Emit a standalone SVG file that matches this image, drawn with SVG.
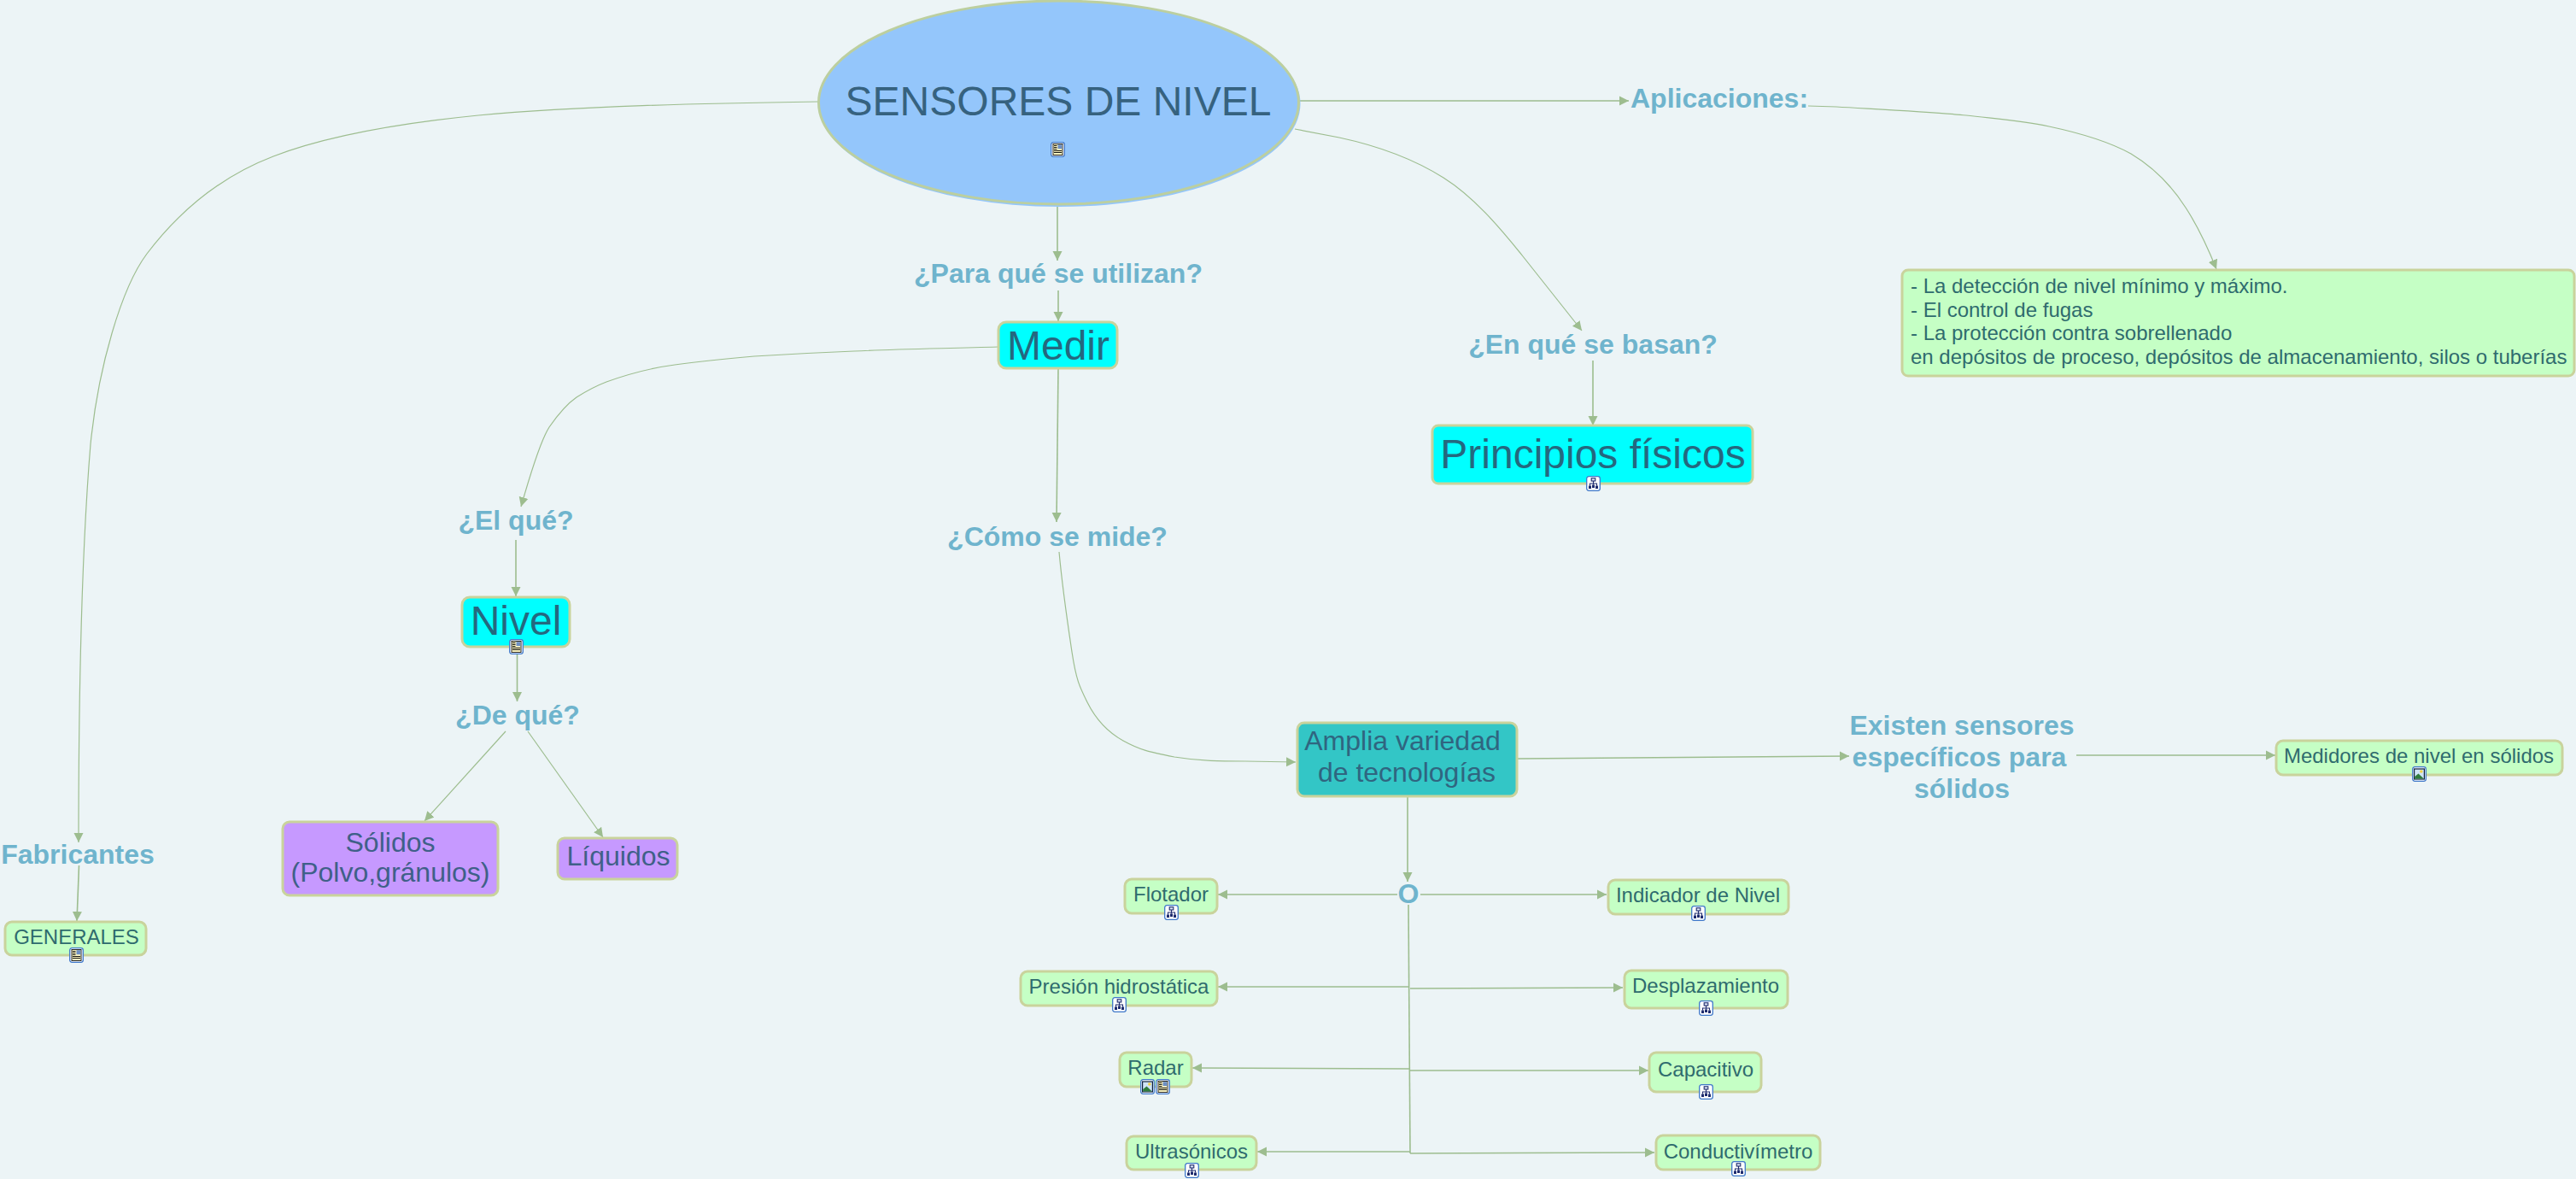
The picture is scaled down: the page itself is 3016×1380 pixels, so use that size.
<svg xmlns="http://www.w3.org/2000/svg" width="3016" height="1380" viewBox="0 0 3016 1380">
<style>
text{font-family:"Liberation Sans",Arial,sans-serif;text-anchor:middle}
.c{fill:none;stroke:#9dbd8f;stroke-width:1.6;marker-end:url(#a)}
.k{fill:none;stroke:#9dbd8f;stroke-width:1.2;marker-end:url(#a)}
.t{fill:none;stroke:#9dbd8f;stroke-width:1.6}
.n{stroke:#c9d39c;stroke-width:3}
.g{fill:#c5ffc5}.cy{fill:#00ffff}.p{fill:#c699ff}.tl{fill:#33c6c6}
.q{font-weight:bold;font-size:32px;fill:#6fb4cd}
.gt{font-size:24px;fill:#2f6b6e}
.l{text-anchor:start}
.ct{fill:#24687f;font-size:48px}
.pt{font-size:32px;fill:#3f6088}
</style>
<defs>
<marker id="a" markerUnits="userSpaceOnUse" markerWidth="12" markerHeight="12" refX="11" refY="6" orient="auto"><path d="M0 0.500L11 6L0 11.500z" fill="#9dbd8f"/></marker>
<symbol id="org" viewBox="0 0 17 18"><rect x=".7" y=".7" width="15.6" height="16.6" rx="2.5" fill="#fff" stroke="#3f78c9" stroke-width="1.3"/><path d="M8.500 6V10M4.500 11.500V9H12.500V11.500M8.500 9V10.500" fill="none" stroke="#1e2b6e" stroke-width="1.100"/><rect x="6.200" y="2.800" width="4.600" height="3.200" fill="#dfe6f6" stroke="#1e2b6e" stroke-width="1.100"/><rect x="3" y="11.500" width="3" height="3.500" fill="#1e2b6e"/><rect x="7" y="10.500" width="3" height="3.500" fill="#1e2b6e"/><rect x="11" y="11.500" width="3" height="3.500" fill="#1e2b6e"/></symbol>
<symbol id="doc" viewBox="0 0 17 18"><rect x=".7" y=".7" width="15.6" height="16.6" rx="2.5" fill="#fff" stroke="#3f78c9" stroke-width="1.3"/><rect x="3" y="2.500" width="11" height="13" fill="#fff8c2" stroke="#111" stroke-width=".9"/><rect x="8.500" y="3.200" width="5" height="5" fill="#6e8fc4"/><path d="M4 4.500H7.500M4 6.500H7.500M4 8.500H7.500M4 10.500H13M4 12.500H13" stroke="#111" stroke-width="1"/></symbol>
<symbol id="img" viewBox="0 0 17 18"><rect x=".7" y=".7" width="15.6" height="16.6" rx="2.5" fill="#fff" stroke="#3f78c9" stroke-width="1.3"/><rect x="2.600" y="3" width="11.800" height="12" fill="#cfe4f6" stroke="#10233f" stroke-width="1.200"/><circle cx="10.800" cy="6" r="1.800" fill="#f3d34a"/><path d="M3.200 14.400V12L7.500 8.500L13.800 14.400z" fill="#2f7d3c"/></symbol>
</defs>
<rect width="3016" height="1380" fill="#ecf4f6"/>
<g id="connectors">
<path class="k" d="M958 119C820 121 680 124 560 135C470 144 385 158 320 183C260 206 210 247 172 297C142 337 115 430 106 520C96 640 92 800 92 986"/>
<path class="c" d="M92.500 1013L90 1078"/>
<path class="c" d="M1521 118L1907 118"/>
<path class="k" d="M2117 124L2150 125C2200 128 2270 131.500 2302 135C2335 139 2366 141 2399 148C2432 155 2468 165 2495 180C2520 195 2543 218 2559 243C2572 263 2585 290 2595 315"/>
<path class="k" d="M1516 151L1568 161C1610 170 1655 186 1690 208C1725 230 1755 265 1783 300L1852 387"/>
<path class="c" d="M1865 422L1865 498"/>
<path class="c" d="M1238 242L1238 305"/>
<path class="c" d="M1239 340L1239 376"/>
<path class="k" d="M1169 406C1100 408 1040 409 1000 411C950 413 915 415 883 417C850 420 820 423 790 427C760 431 735 438 710 447C697 452 686 458 675 465C662 474 652 487 643 500C632 517 618 565 610 593"/>
<path class="c" d="M604 632L604 698"/>
<path class="c" d="M605.500 765L605.500 821"/>
<path class="k" d="M592 856L497 961"/>
<path class="k" d="M618 856L706 980"/>
<path class="c" d="M1239 431L1237 611"/>
<path class="k" d="M1240 646C1244 690 1249 723 1255 763C1260 796 1264 804 1273 822C1282 840 1297 857 1315 867C1335 878 1345 880 1375 886C1405 891 1430 891 1458 891L1517 892"/>
<path class="c" d="M1776 888L2165 885"/>
<path class="c" d="M2431 884L2664 884"/>
<path class="c" d="M1648 932L1648 1032"/>
<path class="c" d="M1636 1047L1426 1047"/>
<path class="c" d="M1663 1047L1881 1047"/>
<path class="t" d="M1649 1059L1651 1350"/>
<path class="c" d="M1650 1155L1426 1155"/>
<path class="c" d="M1651 1157L1900 1156"/>
<path class="c" d="M1650 1251L1396 1250"/>
<path class="c" d="M1651 1253L1930 1253"/>
<path class="c" d="M1651 1348L1472 1348"/>
<path class="c" d="M1651 1350L1937 1349"/>
</g>
<g id="n-title"><ellipse cx="1240.500" cy="121.500" rx="282" ry="120.500" fill="#94c6fb"/><ellipse cx="1239.500" cy="120" rx="281" ry="119" fill="#94c6fb" stroke="#bccf9f" stroke-width="3"/><text x="1239" y="135" font-size="48" fill="#36627f">SENSORES DE NIVEL</text><use href="#doc" x="1230" y="166" width="17" height="18"/></g>
<g id="n-para"><text class="q" x="1239" y="331">¿Para qué se utilizan?</text></g>
<g id="n-medir"><rect class="n cy" x="1169" y="377" width="139" height="54" rx="9"/><text class="ct" x="1239" y="421">Medir</text></g>
<g id="n-aplic"><text class="q" x="2013" y="126">Aplicaciones:</text></g>
<g id="n-apbox"><rect class="n g" x="2227" y="316" width="787" height="124" rx="7"/><text class="gt l" x="2237" y="343">- La detección de nivel mínimo y máximo.</text><text class="gt l" x="2237" y="371">- El control de fugas</text><text class="gt l" x="2237" y="398">- La protección contra sobrellenado</text><text class="gt l" x="2237" y="426">en depósitos de proceso, depósitos de almacenamiento, silos o tuberías</text></g>
<g id="n-basan"><text class="q" x="1865" y="414">¿En qué se basan?</text></g>
<g id="n-princ"><rect class="n cy" x="1677" y="498" width="375" height="68" rx="7"/><text class="ct" x="1865" y="548">Principios físicos</text><use href="#org" x="1857" y="557" width="17" height="18"/></g>
<g id="n-elque"><text class="q" x="604" y="620">¿El qué?</text></g>
<g id="n-nivel"><rect class="n cy" x="541" y="699" width="126" height="58" rx="9"/><text class="ct" x="604" y="743">Nivel</text><use href="#doc" x="596" y="748" width="17" height="18"/></g>
<g id="n-deque"><text class="q" x="606" y="848">¿De qué?</text></g>
<g id="n-solidos"><rect class="n p" x="331" y="962" width="252" height="86" rx="8"/><text class="pt" x="457" y="997">Sólidos</text><text class="pt" x="457" y="1032">(Polvo,gránulos)</text></g>
<g id="n-liquidos"><rect class="n p" x="653" y="981" width="140" height="48" rx="8"/><text class="pt" x="724" y="1013">Líquidos</text></g>
<g id="n-como"><text class="q" x="1238" y="639">¿Cómo se mide?</text></g>
<g id="n-amplia"><rect class="n tl" x="1519" y="846" width="257" height="86" rx="8"/><text x="1642" y="878" font-size="32" fill="#2f6580">Amplia variedad</text><text x="1647" y="915" font-size="32" fill="#2f6580">de tecnologías</text></g>
<g id="n-existen"><text class="q" x="2297" y="860">Existen sensores</text><text class="q" x="2294" y="897">específicos para</text><text class="q" x="2297" y="934">sólidos</text></g>
<g id="n-medidores"><rect class="n g" x="2665" y="867" width="335" height="40" rx="8"/><text class="gt" x="2832" y="893">Medidores de nivel en sólidos</text><use href="#img" x="2824" y="897" width="17" height="18"/></g>
<g id="n-fabric"><text class="q" x="91" y="1011">Fabricantes</text></g>
<g id="n-general"><rect class="n g" x="6" y="1079" width="165" height="39" rx="8"/><text class="gt" x="89.500" y="1105">GENERALES</text><use href="#doc" x="81" y="1109" width="17" height="18"/></g>
<g id="n-o"><text class="q" x="1649" y="1057">O</text></g>
<g id="n-flot"><rect class="n g" x="1317" y="1029" width="108" height="40" rx="8"/><text class="gt" x="1371" y="1055">Flotador</text><use href="#org" x="1363" y="1059" width="17" height="18"/></g>
<g id="n-indic"><rect class="n g" x="1883" y="1030" width="211" height="40" rx="8"/><text class="gt" x="1988" y="1056">Indicador de Nivel</text><use href="#org" x="1980" y="1060" width="17" height="18"/></g>
<g id="n-pres"><rect class="n g" x="1195" y="1137" width="230" height="40" rx="8"/><text class="gt" x="1310" y="1163">Presión hidrostática</text><use href="#org" x="1302" y="1167" width="17" height="18"/></g>
<g id="n-despl"><rect class="n g" x="1902" y="1136" width="191" height="44" rx="8"/><text class="gt" x="1997" y="1162">Desplazamiento</text><use href="#org" x="1989" y="1171" width="17" height="18"/></g>
<g id="n-radar"><rect class="n g" x="1311" y="1232" width="84" height="40" rx="8"/><text class="gt" x="1353" y="1258">Radar</text><use href="#img" x="1335" y="1263" width="17" height="18"/><use href="#doc" x="1353" y="1263" width="17" height="18"/></g>
<g id="n-capac"><rect class="n g" x="1931" y="1232" width="131" height="46" rx="8"/><text class="gt" x="1997" y="1260">Capacitivo</text><use href="#org" x="1989" y="1269" width="17" height="18"/></g>
<g id="n-ultra"><rect class="n g" x="1319" y="1330" width="152" height="39" rx="8"/><text class="gt" x="1395" y="1356">Ultrasónicos</text><use href="#org" x="1387" y="1361" width="17" height="18"/></g>
<g id="n-cond"><rect class="n g" x="1939" y="1329" width="192" height="40" rx="8"/><text class="gt" x="2035" y="1356">Conductivímetro</text><use href="#org" x="2027" y="1359" width="17" height="18"/></g>
</svg>
